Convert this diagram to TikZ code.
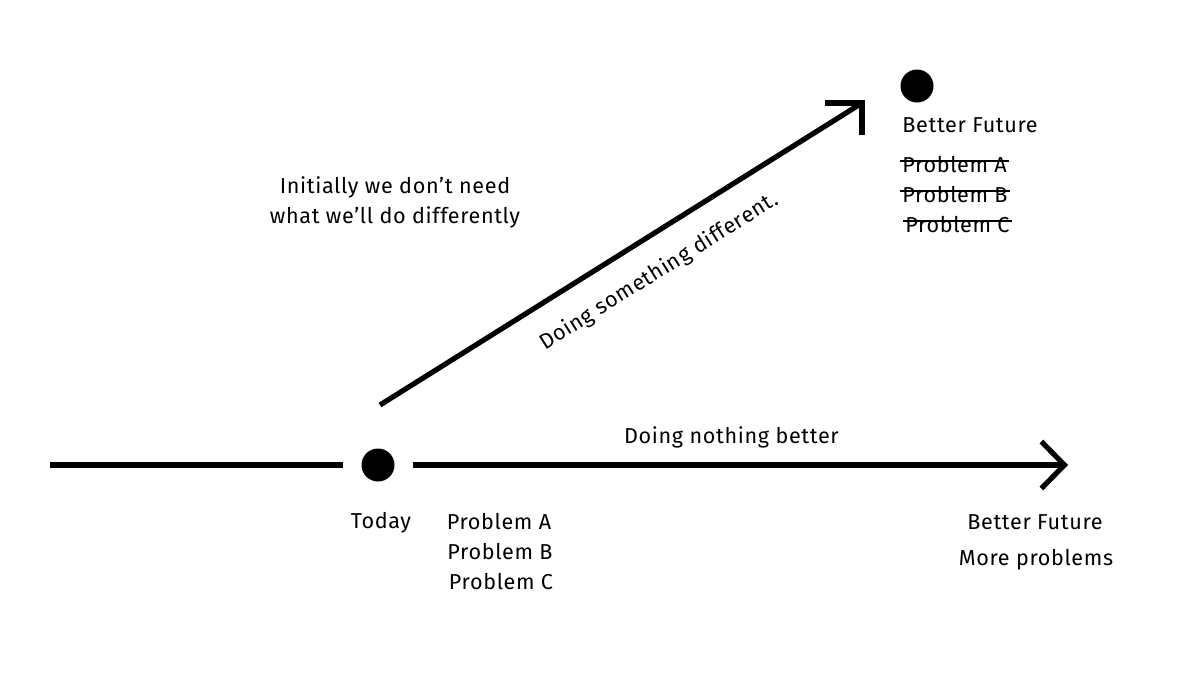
\documentclass[tikz,border=0pt]{standalone}
\usepackage{fontspec}
\setmainfont{Fira Sans}[LetterSpace=3]
\usetikzlibrary{positioning,arrows.meta}
\tikzset{
  dot/.style={circle, fill=black, inner sep=0pt, minimum size=16.5pt},
  txt/.style={font=\fontsize{10.8}{15}\selectfont, inner sep=1pt},
  thickline/.style={line width=2.6pt},
  strike/.style={line width=0.8pt}
}

\begin{document}
\begin{tikzpicture}[x=0.5pt,y=-0.5pt]
\useasboundingbox (0,0) rectangle (1200,675);
% timeline
\coordinate (start) at (50,465);
\coordinate (nothing) at (1068,465);
\node[dot] (today) at (378,465) {};
\draw[thickline, shorten >=9pt] (start) -- (today);
\draw[thickline, shorten <=9pt, -{Straight Barb[length=11.5pt,width=23.5pt]}] (today) -- node[txt, above=6pt, pos=.5]{Doing nothing better} (nothing);
% the other way
\coordinate (up) at (380,405);
\coordinate (tip) at (862,103);
\draw[thickline] (up) -- node[txt, sloped, below=10pt, pos=.54]{Doing something different.} (tip);
\draw[line width=3.4pt] ([xshift=-18.5pt]tip) -- (tip) -- ([yshift=-16pt]tip);
\node[dot] (future) at (917,86) {};
\node[txt, align=center] (initially) at (395,202) {Initially we don't need\\what we'll do differently};
% labels
\node[txt] (todaylabel) at (381,523) {Today};
\node[txt] (pa) at (499,522) {Problem A};
\node[txt] (pb) at (500,552) {Problem B};
\node[txt] (pc) at (501,582) {Problem C};
\node[txt] (bf) at (1035,522) {Better Future};
\node[txt] (more) at (1036,560) {More problems};
\node[txt, anchor=west] (bfup) at (900,125) {Better Future};
\node[txt, anchor=west] (xa) at (900,165) {Problem A};
\node[txt, anchor=west] (xb) at (900,195) {Problem B};
\node[txt, anchor=west] (xc) at (903,225) {Problem C};
\foreach \p in {xa,xb,xc}
  \draw[strike] ([yshift=2pt]\p.west) -- ([yshift=2pt]\p.east);
\end{tikzpicture}
\end{document}
